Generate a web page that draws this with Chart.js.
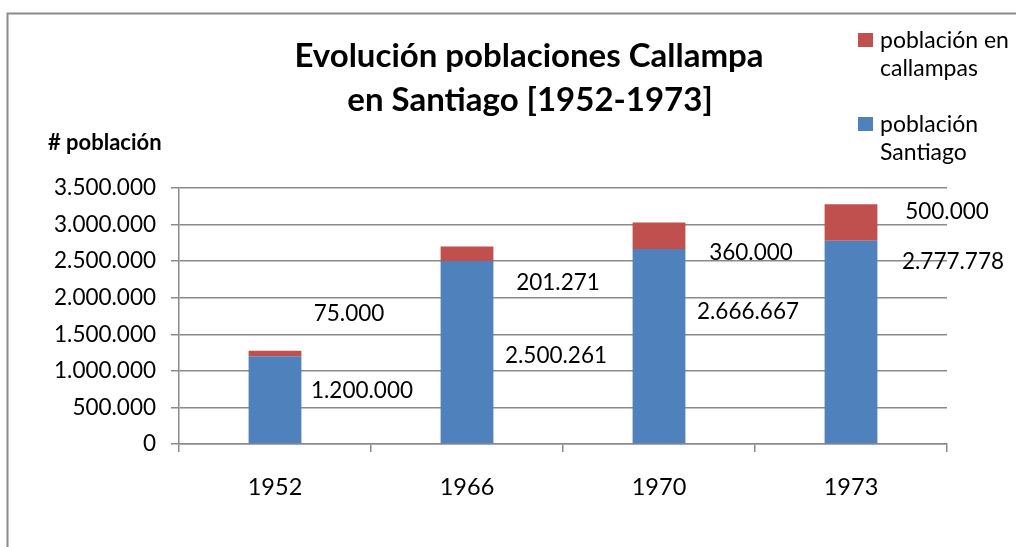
<!DOCTYPE html>
<html>
<head>
<meta charset="utf-8">
<script src="https://cdn.jsdelivr.net/npm/chart.js@4.4.1/dist/chart.umd.min.js"></script>
<style>
  html, body { margin: 0; padding: 0; background: #ffffff; }
  #wrap { width: 1016px; height: 547px; }
</style>
</head>
<body>
<div id="wrap"><canvas id="myChart" width="1016" height="547"></canvas></div>
<script>
// data
const years = ["1952", "1966", "1970", "1973"];
const poblacionSantiago = [1200000, 2500261, 2666667, 2777778];
const poblacionCallampas = [75000, 201271, 360000, 500000];
const yTicks = [0, 500000, 1000000, 1500000, 2000000, 2500000, 3000000, 3500000];

const titleLines = ["Evolución poblaciones Callampa", "en Santiago [1952-1973]"];
const axisTitle = "# población";

// label nudges (px from segment centre), the labels were dragged by hand in the original
const shiftSantiago = [[87, -9], [89, 4], [89, -34], [102, -80]];
const shiftCallampas = [[74, -40], [91, 29], [92, 17], [96, -11]];

const FONT = "Lato";

function fmt(v) {
    return String(v).replace(/\B(?=(\d{3})+(?!\d))/g, ".");
}

// frame + title + axis title + legend
const decor = {
    id: "decor",
    beforeDraw(chart) {
        const ctx = chart.ctx;
        ctx.save();
        ctx.fillStyle = "#ffffff";
        ctx.fillRect(0, 0, chart.width, chart.height);
        ctx.strokeStyle = "#8a8a8a";
        ctx.lineWidth = 2;
        ctx.beginPath();
        ctx.moveTo(7.5, chart.height + 2);
        ctx.lineTo(7.5, 13.5);
        ctx.lineTo(chart.width + 2, 13.5);
        ctx.stroke();
        ctx.restore();
    },
    afterDraw(chart) {
        const ctx = chart.ctx;
        ctx.save();
        ctx.fillStyle = "#000000";
        ctx.textAlign = "center";
        ctx.textBaseline = "middle";
        ctx.font = "bold 33px " + FONT;
        ctx.fillText(titleLines[0], 529, 56);
        ctx.fillText(titleLines[1], 530, 100);

        ctx.textAlign = "left";
        ctx.font = "bold 22px " + FONT;
        ctx.fillText(axisTitle, 48, 143);

        // legend, callampas first like the original
        const items = [
            { ds: chart.data.datasets[1], y: 33 },
            { ds: chart.data.datasets[0], y: 117 }
        ];
        ctx.font = "23px " + FONT;
        items.forEach(function (it) {
            ctx.fillStyle = it.ds.backgroundColor;
            ctx.fillRect(858, it.y, 15, 14);
            ctx.fillStyle = "#000000";
            it.ds.legendLines.forEach(function (line, i) {
                ctx.fillText(line, 880, it.y + 8 + i * 28);
            });
        });
        ctx.restore();
    }
};

// value labels next to the bars
const valueLabels = {
    id: "valueLabels",
    afterDatasetsDraw(chart) {
        const ctx = chart.ctx;
        ctx.save();
        ctx.font = "22.5px " + FONT;
        ctx.fillStyle = "#000000";
        ctx.textAlign = "center";
        ctx.textBaseline = "middle";
        chart.data.datasets.forEach(function (ds, di) {
            const meta = chart.getDatasetMeta(di);
            const shifts = di === 0 ? shiftSantiago : shiftCallampas;
            meta.data.forEach(function (bar, i) {
                const cy = (bar.y + bar.base) / 2;
                ctx.fillText(fmt(ds.data[i]), bar.x + shifts[i][0], cy + shifts[i][1]);
            });
        });
        ctx.restore();
    }
};

new Chart("myChart", {
    type: "bar",
    data: {
        labels: years,
        datasets: [{
            label: "población Santiago",
            legendLines: ["población", "Santiago"],
            data: poblacionSantiago,
            backgroundColor: "#4f81bd",
            barPercentage: 0.55,
            categoryPercentage: 0.5
        }, {
            label: "población en callampas",
            legendLines: ["población en", "callampas"],
            data: poblacionCallampas,
            backgroundColor: "#c0504d",
            barPercentage: 0.55,
            categoryPercentage: 0.5
        }]
    },
    options: {
        responsive: false,
        animation: false,
        devicePixelRatio: 1,
        layout: { padding: { left: 0, right: 69, top: 188, bottom: 0 } },
        plugins: {
            legend: { display: false },
            title: { display: false },
            tooltip: { enabled: false }
        },
        scales: {
            x: {
                stacked: true,
                grid: {
                    offset: true,
                    drawOnChartArea: false,
                    drawTicks: true,
                    tickLength: 8,
                    color: "#8a8a8a",
                    lineWidth: 1.5
                },
                border: { color: "#8a8a8a", width: 1.5 },
                ticks: {
                    color: "#000000",
                    font: { family: FONT, size: 23.5 },
                    padding: 21
                },
                afterFit(scale) { scale.height = 103; }
            },
            y: {
                stacked: true,
                min: 0,
                max: 3500000,
                afterBuildTicks(scale) {
                    scale.ticks = yTicks.map(function (v) { return { value: v }; });
                },
                grid: {
                    color: "#8a8a8a",
                    lineWidth: 1.5,
                    drawTicks: true,
                    tickLength: 8
                },
                border: { color: "#8a8a8a", width: 1.5 },
                ticks: {
                    color: "#000000",
                    font: { family: FONT, size: 22.5 },
                    padding: 15,
                    callback: function (v) { return fmt(v); }
                },
                afterFit(scale) { scale.width = 179; }
            }
        }
    },
    plugins: [decor, valueLabels]
});
</script>
</body>
</html>
